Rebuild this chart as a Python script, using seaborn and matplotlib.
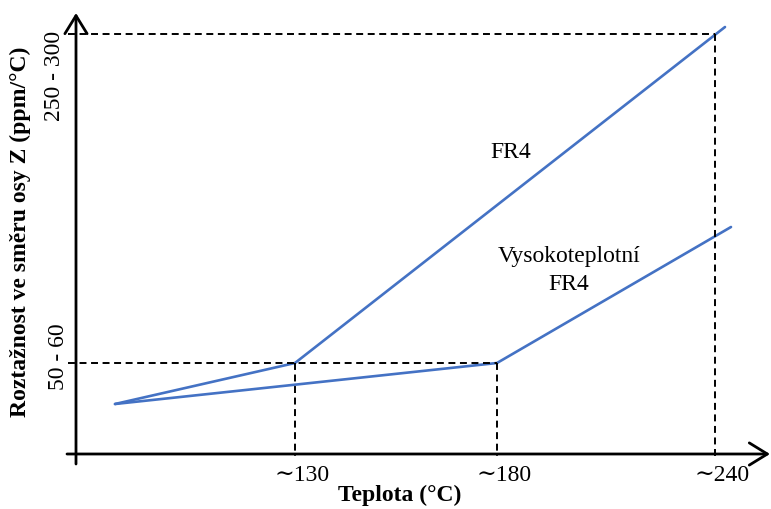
import matplotlib
matplotlib.use("Agg")
import matplotlib.pyplot as plt
import pandas as pd
import seaborn as sns

# Schematic coordinates: both axes use the same unit length, origin at the axis crossing
fr4_x = [3.9, 21.9, 64.9]
fr4_y = [5.0, 9.1, 42.7]
ht_x = [3.9, 42.1, 65.5]
ht_y = [5.0, 9.1, 22.7]

xtick_pos = [21.9, 42.1, 63.9]
xtick_labels = ["∼130", "∼180", "∼240"]
ytick_pos = [9.1, 42.0]
ytick_labels = ["50 - 60", "250 - 300"]

series_names = ["FR4", "Vysokoteplotní\nFR4"]

sns.set_theme(style="white")
plt.rcParams["font.family"] = ["Liberation Serif", "DejaVu Serif"]
plt.rcParams["text.color"] = "black"
plt.rcParams["lines.scale_dashes"] = False

df = pd.concat([
    pd.DataFrame({"x": fr4_x, "y": fr4_y, "series": series_names[0]}),
    pd.DataFrame({"x": ht_x, "y": ht_y, "series": series_names[1]}),
])

fig = plt.figure(figsize=(7.71, 5.09), dpi=100)
ax = fig.add_axes([0, 0, 1, 1])
ax.set_xlim(-7.6, 69.5)
ax.set_ylim(-5.5, 45.4)
ax.axis("off")

blue = "#4472C4"
sns.lineplot(data=df, x="x", y="y", units="series", estimator=None, sort=False,
             color=blue, linewidth=1.9, legend=False, ax=ax)

# Dashed guides from each level to its temperature mark
dash = (0, (5.0, 3.3))
x_left = -0.8
ax.plot([x_left, xtick_pos[1]], [ytick_pos[0], ytick_pos[0]], color="black", lw=1.4, ls=dash)
ax.plot([x_left, xtick_pos[2]], [ytick_pos[1], ytick_pos[1]], color="black", lw=1.4, ls=dash)
ax.plot([xtick_pos[0], xtick_pos[0]], [ytick_pos[0], -0.2], color="black", lw=1.4, ls=dash)
ax.plot([xtick_pos[1], xtick_pos[1]], [ytick_pos[0], -0.2], color="black", lw=1.4, ls=dash)
ax.plot([xtick_pos[2], xtick_pos[2]], [ytick_pos[1], -0.4], color="black", lw=1.4, ls=dash)

# Axes with open arrow heads
arrow = dict(arrowstyle="->,head_length=0.65,head_width=0.4", lw=2.0, color="black",
             mutation_scale=20, shrinkA=0, shrinkB=0)
ax.annotate("", xy=(69.4, 0), xytext=(-0.9, 0), arrowprops=arrow)
ax.annotate("", xy=(0, 44.1), xytext=(0, -1.0), arrowprops=arrow)

fs = 17
# Tick labels
for pos, lab in zip(xtick_pos, xtick_labels):
    ax.text(pos + 0.75, -2.15, lab, ha="center", va="center", fontsize=fs)
ax.text(-2.2, 37.8, ytick_labels[1], rotation=90, ha="center", va="center", fontsize=fs)
ax.text(-1.8, 9.7, ytick_labels[0], rotation=90, ha="center", va="center", fontsize=fs)

# Axis titles
ax.text(32.4, -4.1, "Teplota (°C)", ha="center", va="center", fontsize=fs, fontweight="bold")
ax.text(-5.6, 22.2, "Roztažnost ve směru osy Z (ppm/°C)", rotation=90, ha="center",
        va="center", fontsize=fs, fontweight="bold")

# Series labels
ax.text(43.5, 30.2, series_names[0], ha="center", va="center", fontsize=fs)
ax.text(49.3, 18.35, series_names[1], ha="center", va="center", fontsize=fs,
        linespacing=1.45, multialignment="center")

fig.savefig("out.png", dpi=100)
